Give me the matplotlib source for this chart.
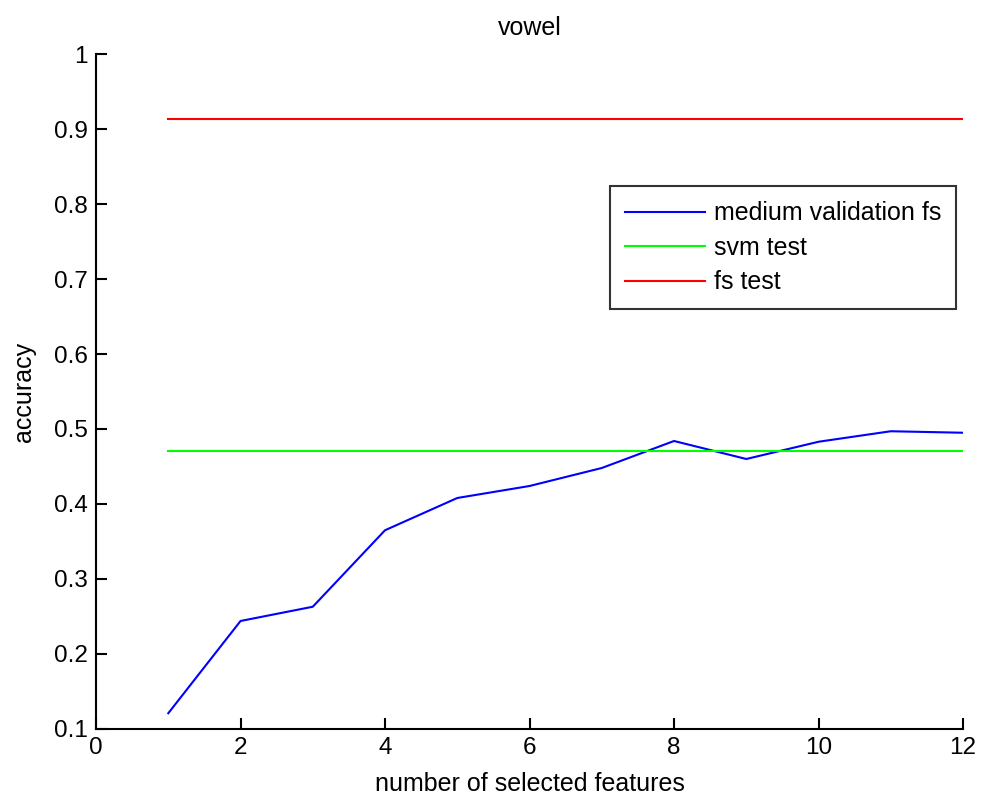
import numpy as np
import matplotlib.pyplot as plt

plt.rcParams['font.family'] = ['Liberation Sans', 'DejaVu Sans']

# number of selected features vs. accuracy
n_features = [1, 2, 3, 4, 5, 6, 7, 8, 9, 10, 11, 12]
medium_val_fs = [0.121, 0.244, 0.263, 0.365, 0.408, 0.424, 0.448, 0.484, 0.460, 0.483, 0.497, 0.495]
svm_test = 0.471
fs_test = 0.913

fig = plt.figure(figsize=(9.83, 7.98), dpi=100)
ax = fig.add_axes([0.0977, 0.0865, 0.882, 0.8458])

ax.plot(n_features, medium_val_fs, color='#0000ff', lw=1.5, label='medium validation fs')
ax.plot(n_features, [svm_test] * len(n_features), color='#00ff00', lw=1.5, label='svm test')
ax.plot(n_features, [fs_test] * len(n_features), color='#ff0000', lw=1.5, label='fs test')

ax.set_xlim(0, 12)
ax.set_ylim(0.1, 1)
ax.set_xticks(np.arange(0, 13, 2))
ax.set_yticks(np.arange(0.1, 1.01, 0.1))
ax.set_yticklabels(['0.1', '0.2', '0.3', '0.4', '0.5', '0.6', '0.7', '0.8', '0.9', '1'])

for s in ['top', 'right']:
    ax.spines[s].set_visible(False)
for s in ['left', 'bottom']:
    ax.spines[s].set_linewidth(1.5)
ax.tick_params(direction='in', length=8, width=1.5, labelsize=17.5, pad=6)

ax.set_title('vowel', fontsize=18, pad=14)
ax.set_xlabel('number of selected features', fontsize=18, labelpad=9)
ax.set_ylabel('accuracy', fontsize=18, labelpad=13)

leg = ax.legend(loc='upper left', bbox_to_anchor=(0.593, 0.804), borderaxespad=0,
                fontsize=18, frameon=True, fancybox=False, edgecolor='black',
                handlelength=3.2, handletextpad=0.35, borderpad=0.6, labelspacing=0.42)
leg.get_frame().set_linewidth(1.5)

plt.savefig('out.png', dpi=100)
